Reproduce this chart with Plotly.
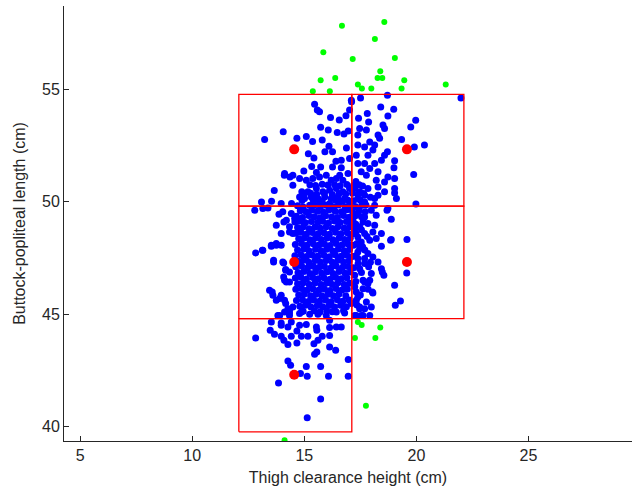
import plotly.graph_objects as go

# ---------------- data ----------------
blue_outer_pts = [
    (15.46, 54.34), (15.58, 54.08), (15.68, 54.0), (16.17, 53.75), (16.56, 53.64), (16.86, 53.82),
    (17.02, 54.08), (17.11, 54.45), (15.73, 53.31), (16.07, 53.19), (16.47, 53.08), (16.77, 53.01),
    (16.96, 53.15), (14.06, 53.11), (13.23, 52.77), (14.67, 52.82), (15.09, 52.9), (15.37, 52.68),
    (15.8, 52.75), (16.1, 52.47), (16.26, 52.22), (15.92, 52.22), (15.18, 52.13), (15.43, 51.95),
    (16.41, 51.8), (16.26, 51.55), (16.65, 51.51), (16.58, 51.18), (16.88, 52.39), (17.02, 51.92),
    (16.65, 51.85), (14.11, 51.18), (14.36, 51.1), (14.49, 50.73), (14.98, 51.37), (15.33, 51.57),
    (15.54, 51.3), (15.73, 51.55), (14.79, 51.03), (15.09, 50.96), (15.38, 51.03), (15.68, 51.1),
    (15.98, 51.18), (16.2, 50.96), (16.43, 51.03), (16.72, 50.96), (16.95, 51.26), (13.66, 50.5),
    (14.89, 50.44), (13.09, 49.99), (13.54, 50.02), (13.97, 49.92), (14.43, 49.92), (15.16, 50.44),
    (15.54, 50.59), (15.83, 50.44), (16.13, 50.51), (16.43, 50.59), (16.72, 50.44), (17.02, 50.59),
    (15.01, 50.14), (15.31, 50.21), (15.61, 50.14), (15.91, 50.21), (16.2, 50.14), (16.5, 50.21),
    (16.8, 50.14), (14.79, 50.21), (15.68, 49.99), (16.13, 49.92), (16.58, 49.99), (17.02, 49.99),
    (13.38, 49.72), (15.24, 49.84), (14.12, 51.26), (14.49, 51.18),
    (21.99, 54.62), (18.71, 54.74), (17.51, 54.62), (17.1, 54.52), (18.41, 54.22), (18.99, 54.11),
    (17.81, 53.93), (18.73, 53.81), (19.97, 53.63), (17.42, 53.71), (17.87, 53.55), (18.51, 53.41),
    (18.58, 53.26), (19.75, 53.33), (17.47, 53.26), (17.77, 53.19), (18.29, 52.97), (18.36, 52.82),
    (17.39, 52.97), (19.34, 52.77), (19.91, 52.44), (20.36, 52.52), (17.92, 52.66), (18.14, 52.52),
    (17.69, 52.44), (17.39, 52.52), (17.32, 52.07), (17.84, 52.07), (18.06, 52.3), (18.58, 52.07),
    (19.03, 51.82), (18.71, 52.22), (18.44, 51.85), (18.14, 51.7), (17.69, 51.7), (17.39, 51.7),
    (19.0, 51.51), (19.88, 51.21), (18.29, 51.33), (17.92, 51.48), (17.54, 51.33), (17.77, 51.18),
    (18.73, 51.1), (19.03, 51.03), (18.58, 50.88), (18.21, 50.96), (18.29, 50.66), (19.03, 50.59),
    (19.03, 50.39), (18.58, 50.44), (18.29, 50.29), (19.11, 50.14), (18.14, 50.14), (17.69, 50.29),
    (17.47, 50.44), (17.84, 50.59), (17.25, 50.59), (19.98, 49.9), (18.73, 49.7), (18.14, 49.84),
    (17.69, 49.99), (17.39, 50.14),
    (12.79, 49.62), (13.15, 49.7), (13.87, 49.44), (14.04, 49.55), (14.42, 49.47), (14.09, 49.1),
    (13.75, 48.95), (14.57, 49.25), (14.34, 48.65), (13.97, 48.58), (13.53, 48.06), (13.75, 48.06),
    (13.97, 48.06), (12.83, 47.72), (13.15, 47.84), (13.63, 47.39), (14.04, 47.32), (14.17, 46.95),
    (14.34, 46.87), (14.12, 46.5), (14.34, 46.43), (13.45, 46.06), (13.97, 45.84), (13.6, 45.84),
    (14.12, 45.61), (14.49, 45.31), (14.12, 45.09), (14.34, 44.94), (14.79, 45.02), (14.27, 45.24),
    (13.13, 47.84), (13.53, 48.02), (13.75, 48.14), (13.57, 45.98), (13.9, 45.69), (13.63, 47.32),
    (14.08, 47.27), (14.17, 46.98), (14.08, 46.65), (14.2, 46.43), (14.34, 45.17), (13.82, 44.94),
    (14.2, 49.18), (14.34, 48.88), (14.49, 48.58), (13.75, 45.61), (14.17, 45.47),
    (18.69, 49.62), (18.88, 49.22), (18.44, 48.58), (18.06, 48.65), (17.69, 48.58), (17.39, 48.43),
    (17.54, 48.21), (17.92, 48.29), (18.21, 48.36), (18.44, 48.02), (18.88, 48.32), (19.58, 48.32),
    (19.57, 46.83), (17.35, 48.14), (17.47, 47.92), (17.84, 47.69), (17.39, 47.47), (17.69, 47.25),
    (18.29, 47.32), (18.44, 47.02), (18.55, 46.73), (17.87, 47.1), (17.47, 47.02), (17.25, 46.73),
    (17.62, 46.5), (17.84, 46.36), (19.03, 46.28), (18.06, 45.94), (17.39, 45.76), (17.77, 45.54),
    (17.99, 45.31), (19.29, 45.58), (19.06, 45.39), (17.47, 45.31), (17.32, 44.94), (17.54, 44.94),
    (17.92, 44.94), (17.17, 49.18), (17.39, 49.47), (17.69, 49.32), (17.99, 49.62), (18.21, 49.4),
    (17.84, 49.03), (17.47, 48.88), (18.14, 48.95), (17.25, 46.21), (17.1, 45.47),
    (17.39, 47.76), (17.69, 47.47), (18.06, 47.54), (18.85, 48.29), (18.48, 46.87), (17.99, 46.8),
    (17.92, 46.5), (17.69, 46.43), (17.62, 46.13), (18.04, 45.98), (17.32, 45.98), (17.32, 45.61),
    (17.47, 45.24), (17.62, 44.94), (17.69, 45.24),
    (17.3, 49.0), (17.55, 48.75), (17.8, 48.45), (17.3, 48.6), (17.6, 48.0), (17.3, 47.6),
    (17.95, 47.3), (17.4, 47.25), (17.55, 46.85), (17.3, 46.45), (17.85, 46.1), (17.5, 45.85),
    (17.35, 45.4), (17.75, 49.85), (17.95, 50.2), (17.3, 50.9), (17.6, 50.7),
    (13.9, 44.94), (14.34, 45.05), (14.87, 45.09), (15.24, 44.99), (15.61, 44.99), (15.98, 44.94),
    (16.43, 45.09), (16.8, 45.05), (17.25, 44.94), (13.53, 44.65), (13.97, 44.6), (13.97, 44.5),
    (14.42, 44.65), (14.27, 44.42), (14.79, 44.5), (15.09, 44.54), (15.54, 44.42), (15.56, 44.28),
    (16.13, 44.72), (16.13, 44.4), (16.43, 44.42), (16.65, 44.42), (12.83, 43.93), (13.48, 44.28),
    (13.67, 44.1), (13.97, 44.01), (14.09, 43.83), (14.27, 43.65), (14.42, 44.01), (14.67, 43.71),
    (14.87, 44.01), (14.67, 44.25), (15.16, 44.01), (15.43, 43.68), (15.61, 43.83), (15.8, 44.01),
    (16.13, 44.05), (15.56, 43.31), (15.46, 43.21), (16.13, 43.53), (16.4, 43.39), (16.96, 42.98),
    (14.27, 42.91), (14.39, 42.72), (15.09, 42.67), (15.73, 42.67), (14.83, 42.35), (15.13, 42.23),
    (16.08, 42.23), (16.96, 42.23), (13.85, 41.93), (15.73, 41.22), (15.13, 40.39),
]

blue_core_pts = [
    (15.25, 50.75), (15.5, 50.72), (15.8, 50.78), (16.05, 50.74), (16.35, 50.76), (16.6, 50.71),
    (16.9, 50.77), (17.2, 50.73), (17.45, 50.76),
    (15.0, 50.35), (15.28, 50.38), (15.55, 50.33), (15.9, 50.36), (16.25, 50.32), (16.55, 50.37),
    (16.85, 50.34), (17.15, 50.38), (17.4, 50.33), (17.65, 50.36),
    (14.9, 50.05), (15.4, 50.07), (15.8, 50.03), (16.4, 50.06), (16.7, 50.02), (16.95, 50.07),
    (17.2, 50.04), (17.5, 50.06),
    (14.7, 49.82), (14.95, 49.76), (15.45, 49.85), (15.72, 49.78), (15.98, 49.84), (16.3, 49.77),
    (16.52, 49.85), (16.82, 49.78), (17.05, 49.83), (17.3, 49.77), (17.58, 49.84),
    (14.82, 49.6), (15.08, 49.55), (15.33, 49.63), (15.58, 49.58), (15.85, 49.54), (16.1, 49.63),
    (16.38, 49.57), (16.65, 49.55), (16.9, 49.64), (17.15, 49.56), (17.45, 49.62), (17.72, 49.55),
    (14.65, 49.35), (14.92, 49.3), (15.2, 49.39), (15.45, 49.33), (15.7, 49.29), (15.95, 49.38),
    (16.22, 49.32), (16.48, 49.3), (16.75, 49.39), (17.0, 49.31), (17.28, 49.37), (17.55, 49.33),
    (14.58, 49.1), (14.8, 49.14), (15.05, 49.06), (15.32, 49.12), (15.6, 49.07), (15.82, 49.13),
    (16.08, 49.05), (16.35, 49.14), (16.6, 49.08), (16.88, 49.12), (17.12, 49.06), (17.62, 49.1),
    (14.7, 48.85), (14.96, 48.89), (15.22, 48.8), (15.48, 48.87), (15.72, 48.82), (15.98, 48.88),
    (16.25, 48.81), (16.5, 48.88), (16.78, 48.83), (17.02, 48.87), (17.25, 48.8),
    (14.62, 48.6), (14.85, 48.64), (15.1, 48.56), (15.36, 48.63), (15.62, 48.57), (15.88, 48.62),
    (16.12, 48.55), (16.4, 48.64), (16.64, 48.57), (16.92, 48.62), (17.15, 48.56),
    (14.75, 48.35), (15.0, 48.39), (15.25, 48.31), (15.5, 48.38), (15.76, 48.32), (16.02, 48.38),
    (16.28, 48.31), (16.55, 48.39), (16.8, 48.32), (17.05, 48.37),
    (14.6, 48.1), (14.88, 48.14), (15.12, 48.06), (15.4, 48.13), (15.65, 48.07), (15.9, 48.12),
    (16.15, 48.05), (16.42, 48.14), (16.68, 48.07), (16.95, 48.12), (17.2, 48.06),
    (14.7, 47.85), (14.98, 47.89), (15.22, 47.81), (15.5, 47.88), (15.75, 47.82), (16.0, 47.88),
    (16.27, 47.81), (16.52, 47.89), (16.78, 47.82), (17.02, 47.87), (17.7, 47.85),
    (14.58, 47.6), (14.85, 47.64), (15.1, 47.56), (15.35, 47.63), (15.6, 47.57), (15.88, 47.62),
    (16.12, 47.55), (16.38, 47.64), (16.65, 47.57), (16.9, 47.62), (17.15, 47.56),
    (14.72, 47.35), (14.95, 47.39), (15.2, 47.31), (15.48, 47.38), (15.72, 47.32), (15.98, 47.38),
    (16.25, 47.31), (16.5, 47.39), (16.75, 47.32), (17.0, 47.37),
    (14.62, 47.1), (14.88, 47.14), (15.15, 47.06), (15.4, 47.13), (15.65, 47.07), (15.9, 47.12),
    (16.18, 47.05), (16.42, 47.14), (16.7, 47.07), (16.95, 47.12), (17.2, 47.06),
    (14.72, 46.85), (14.98, 46.89), (15.25, 46.81), (15.5, 46.88), (15.78, 46.82), (16.02, 46.88),
    (16.28, 46.81), (16.55, 46.89), (16.82, 46.82), (17.05, 46.87),
    (14.6, 46.6), (14.85, 46.64), (15.1, 46.56), (15.38, 46.63), (15.62, 46.57), (15.88, 46.62),
    (16.15, 46.55), (16.4, 46.64), (16.65, 46.57), (16.9, 46.62),
    (14.7, 46.35), (14.95, 46.39), (15.22, 46.31), (15.48, 46.38), (15.75, 46.32), (16.0, 46.38),
    (16.25, 46.31), (16.5, 46.39), (16.78, 46.32), (17.02, 46.37),
    (14.62, 46.1), (14.88, 46.14), (15.12, 46.06), (15.38, 46.13), (15.65, 46.07), (15.9, 46.12),
    (16.15, 46.05), (16.42, 46.14), (16.68, 46.07), (16.92, 46.12),
    (14.75, 45.85), (15.0, 45.89), (15.28, 45.81), (15.52, 45.88), (15.78, 45.82), (16.05, 45.88),
    (16.3, 45.81), (16.55, 45.89), (16.85, 45.82),
    (14.65, 45.6), (14.92, 45.64), (15.18, 45.56), (15.42, 45.63), (15.68, 45.57), (15.95, 45.62),
    (16.2, 45.55), (16.48, 45.64), (16.72, 45.57), (17.0, 45.62),
    (14.8, 45.35), (15.05, 45.39), (15.3, 45.31), (15.58, 45.38), (15.82, 45.32), (16.1, 45.38),
    (16.35, 45.31), (16.62, 45.39), (16.88, 45.32),
    (14.95, 45.12), (15.45, 45.15), (15.7, 45.09), (16.0, 45.14), (16.25, 45.1), (16.75, 45.15),
]

green_pts = [
    (16.68, 57.83), (18.57, 58.0), (18.15, 57.24), (15.85, 56.65), (17.16, 56.35), (19.04, 56.4),
    (18.39, 55.81), (18.27, 55.51), (18.48, 55.51), (16.38, 55.51), (15.73, 55.4), (19.46, 55.4),
    (17.39, 55.22), (17.57, 55.04), (17.99, 55.04), (19.34, 55.04), (21.31, 55.22), (15.38, 54.92),
    (16.14, 54.92), (17.39, 44.65), (17.56, 44.51), (18.39, 44.4), (17.26, 43.93), (18.17, 43.93),
    (17.75, 40.92), (14.12, 39.38),
]

# cluster centres (red dots)
centre_x = [14.55, 14.55, 14.55, 19.58, 19.58]
centre_y = [52.33, 47.32, 42.3, 52.33, 47.32]

# box grid edges and which cells are drawn (column, row)
box_x_edges = [12.08, 17.12, 22.12]
box_y_edges = [39.76, 44.8, 49.8, 54.78]
box_cells = [(0, 0), (0, 1), (0, 2), (1, 1), (1, 2)]

x_ticks = [5, 10, 15, 20, 25]
y_ticks = [40, 45, 50, 55]
x_range = [4.28, 29.62]
y_range = [39.35, 58.71]
x_title = "Thigh clearance height (cm)"
y_title = "Buttock-popliteal length (cm)"

# ---------------- figure ----------------
blue_all = blue_outer_pts + blue_core_pts
fig = go.Figure()
fig.add_trace(go.Scatter(
    x=[p[0] for p in blue_all], y=[p[1] for p in blue_all], mode="markers",
    marker=dict(color="#0000FF", size=7, line=dict(width=0)), hoverinfo="skip"))
fig.add_trace(go.Scatter(
    x=[p[0] for p in green_pts], y=[p[1] for p in green_pts], mode="markers",
    marker=dict(color="#00FF00", size=6, line=dict(width=0)), hoverinfo="skip"))

bx, by = [], []
for c, r in box_cells:
    x0, x1 = box_x_edges[c], box_x_edges[c + 1]
    y0, y1 = box_y_edges[r], box_y_edges[r + 1]
    bx += [x0, x1, x1, x0, x0, None]
    by += [y0, y0, y1, y1, y0, None]
fig.add_trace(go.Scatter(x=bx, y=by, mode="lines",
                         line=dict(color="#FF0000", width=1.3), hoverinfo="skip"))
fig.add_trace(go.Scatter(x=centre_x, y=centre_y, mode="markers",
                         marker=dict(color="#FF0000", size=10, line=dict(width=0)),
                         hoverinfo="skip"))

axis_font = dict(family="Liberation Sans, Arial, sans-serif", size=16, color="#262626")
fig.update_layout(
    width=632, height=489,
    margin=dict(l=64, r=0, t=6, b=48),
    paper_bgcolor="white", plot_bgcolor="white",
    showlegend=False,
    font=axis_font,
    xaxis=dict(range=x_range, tickvals=x_ticks, ticks="inside", ticklen=5,
               tickcolor="#262626", showline=True, linecolor="#262626", linewidth=1,
               showgrid=False, zeroline=False, tickfont=axis_font,
               title=dict(text=x_title, font=axis_font, standoff=8)),
    yaxis=dict(range=y_range, tickvals=y_ticks, ticks="inside", ticklen=5,
               tickcolor="#262626", showline=True, linecolor="#262626", linewidth=1,
               showgrid=False, zeroline=False, tickfont=axis_font,
               title=dict(text=y_title, font=axis_font, standoff=12)),
)
fig.write_html("out.html")
